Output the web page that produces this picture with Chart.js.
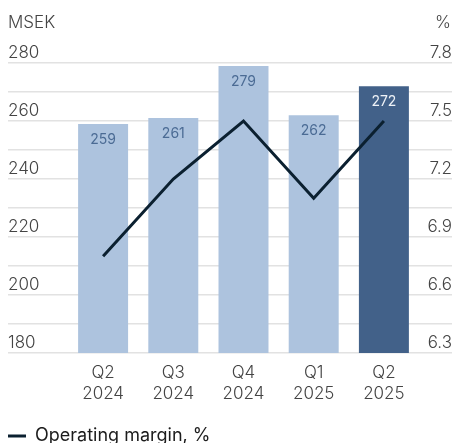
<!DOCTYPE html>
<html>
<head>
<meta charset="utf-8">
<script src="https://cdn.jsdelivr.net/npm/chart.js@4"></script>
<style>
  html, body { margin:0; padding:0; background:#fff; overflow:hidden; }
  #wrap { width:452px; height:471px; }
</style>
</head>
<body>
<div id="wrap"><canvas id="chart"></canvas></div>
<script>

const kvartal = [
  ['Q2', '2024'],
  ['Q3', '2024'],
  ['Q4', '2024'],
  ['Q1', '2025'],
  ['Q2', '2025']
];

const resultat = [259, 261, 279, 262, 272];

const marginal = [6.8, 7.2, 7.5, 7.1, 7.5];

const barColors = ['#adc3de', '#adc3de', '#adc3de', '#adc3de', '#426189'];
const labelColors = ['#4b6b94', '#4b6b94', '#4b6b94', '#4b6b94', '#eef2f7'];

const FONT = 'Inter, "Noto Sans", sans-serif';

/* texter och etiketter */

const extras = {
  id:'extras',
  afterDraw(chart){
    const ctx = chart.ctx;
    ctx.save();
    ctx.font = '300 17px ' + FONT;
    ctx.fillStyle = '#444';
    ctx.textBaseline = 'middle';
    ctx.textAlign = 'left';
    ctx.fillText('MSEK', 8, 23);
    ctx.textAlign = 'right';
    ctx.fillText('%', 451, 23);
    ctx.restore();
  },
  afterDatasetsDraw(chart){
    const ctx = chart.ctx;
    const meta = chart.getDatasetMeta(0);
    ctx.save();
    ctx.font = '400 14px ' + FONT;
    ctx.textAlign = 'center';
    ctx.textBaseline = 'middle';
    meta.data.forEach((bar, i) => {
      ctx.fillStyle = labelColors[i];
      ctx.fillText(resultat[i], bar.x, bar.y + 16);
    });
    ctx.restore();
  }
};

new Chart(document.getElementById('chart'), {
  data:{
    labels:kvartal,
    datasets:[
      {
        type:'bar',
        label:'MSEK',
        data:resultat,
        backgroundColor:barColors,
        barPercentage:0.712,
        categoryPercentage:1,
        yAxisID:'y',
        order:2
      },
      {
        type:'line',
        label:'Operating margin, %',
        data:marginal,
        borderColor:'#0b2030',
        backgroundColor:'#0b2030',
        borderWidth:3,
        pointRadius:0,
        tension:0,
        yAxisID:'y1',
        order:1
      }
    ]
  },
  options:{
    responsive:true,
    maintainAspectRatio:false,
    animation:false,
    layout:{
      padding:{ top:63, left:8, right:0, bottom:16 }
    },
    plugins:{
      tooltip:{ enabled:false },
      legend:{
        position:'bottom',
        align:'start',
        labels:{
          filter:item => item.datasetIndex === 1,
          usePointStyle:true,
          pointStyle:'line',
          pointStyleWidth:18,
          padding:0,
          color:'#1c1c1c',
          font:{ family:FONT, size:18, weight:'400' }
        }
      }
    },
    scales:{
      x:{
        grid:{ display:false, drawTicks:false },
        border:{ display:false },
        ticks:{
          color:'#444',
          padding:10,
          font:{ family:FONT, size:17, weight:'300', lineHeight:1.22 }
        },
        afterFit:s => { s.height = 74; }
      },
      y:{
        position:'left',
        min:180,
        max:280,
        border:{ display:false },
        grid:{ color:'#e2e2e2', lineWidth:1.5, tickLength:60 },
        ticks:{
          stepSize:10,
          crossAlign:'far',
          padding:0,
          labelOffset:-10,
          color:'#444',
          font:{ family:FONT, size:17, weight:'300' },
          callback:v => v % 20 === 0 ? v : ''
        },
        afterFit:s => { s.width = 60; }
      },
      y1:{
        position:'right',
        min:6.3,
        max:7.8,
        border:{ display:false },
        grid:{ color:'#e2e2e2', lineWidth:1.5, drawOnChartArea:false, tickLength:33 },
        ticks:{
          count:11,
          crossAlign:'far',
          padding:0,
          labelOffset:-10,
          color:'#444',
          font:{ family:FONT, size:17, weight:'300' },
          callback:(v, i) => i % 2 === 0 ? v.toFixed(1) : ''
        },
        afterFit:s => { s.width = 33; }
      }
    }
  },
  plugins:[extras]
});

</script>
</body>
</html>
